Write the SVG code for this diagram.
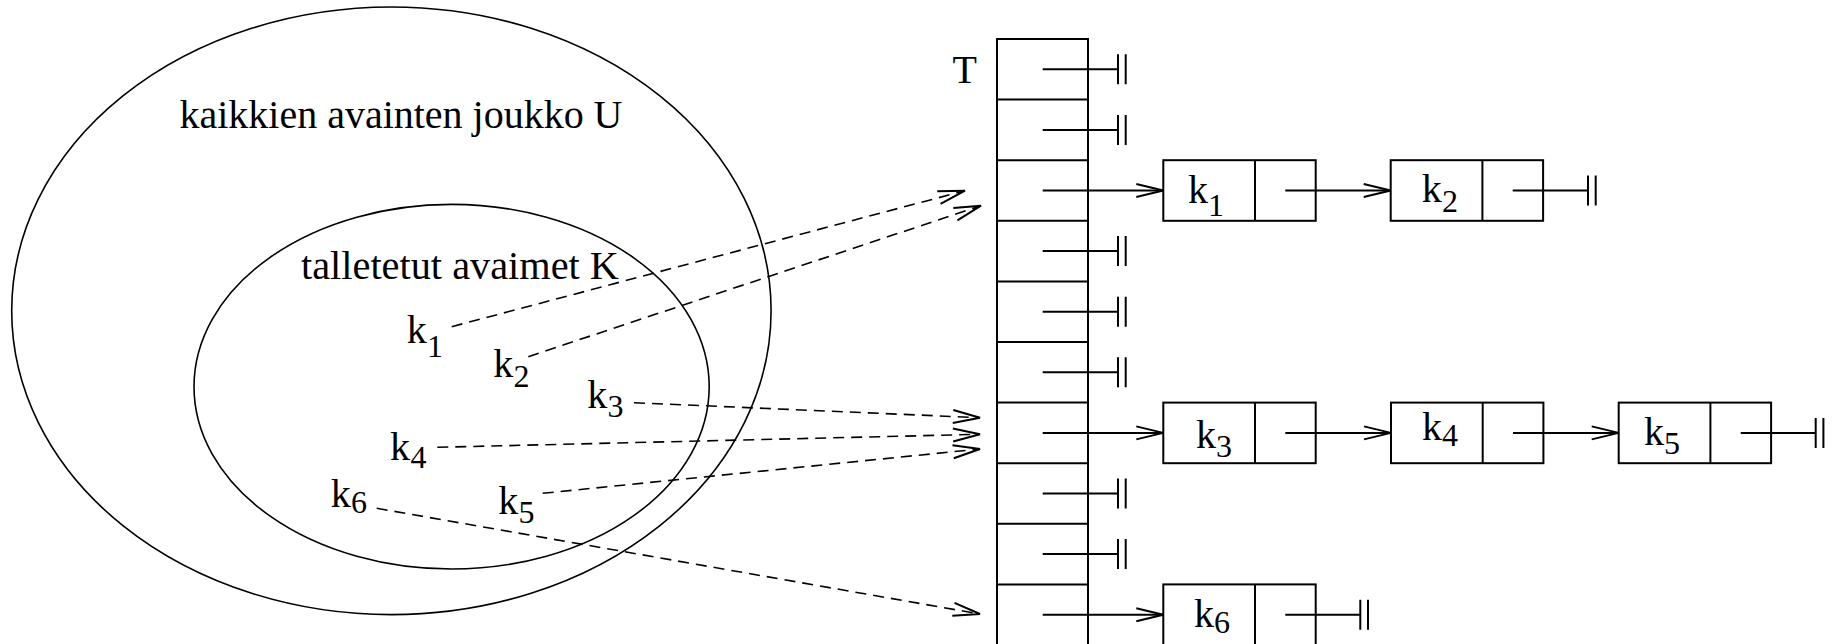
<svg xmlns="http://www.w3.org/2000/svg" width="1832" height="644" viewBox="0 0 1832 644">
<style>
text{font-family:"Liberation Serif","Times New Roman",serif;fill:#000}
.big{font-size:40px}
.sub{font-size:32px}
.sh{fill:none;stroke:#000;stroke-width:1.6}
.box{fill:#fff;stroke:#000;stroke-width:2}
.ln{fill:none;stroke:#000;stroke-width:2}
.dash{fill:none;stroke:#000;stroke-width:1.6;stroke-dasharray:11 7}
</style>
<defs>
<marker id="arr" markerUnits="userSpaceOnUse" markerWidth="30" markerHeight="16" viewBox="-27 -8 30 16" refX="0" refY="0" orient="auto" overflow="visible">
<path d="M-27,-6.5 L0,0 L-27,6.5" fill="none" stroke="#000" stroke-width="2" stroke-dasharray="none"/>
</marker>
<g id="gnd"><path d="M0,-15 V15 M7.7,-15 V15" fill="none" stroke="#000" stroke-width="2"/></g>
</defs>
<rect width="1832" height="644" fill="#fff"/>

<g id="universe">
<ellipse class="sh" cx="391.4" cy="310.8" rx="379.7" ry="303.8"/>
<text class="big" x="179.5" y="128.3" textLength="443" lengthAdjust="spacingAndGlyphs">kaikkien avainten joukko U</text>
</g>
<g id="keyset">
<ellipse class="sh" cx="451.6" cy="386.7" rx="257.6" ry="182.3"/>
<text class="big" x="301" y="279.3" textLength="318" lengthAdjust="spacingAndGlyphs">talletetut avaimet K</text>
</g>

<g id="key-k1"><text class="big" x="406.7" y="343.3">k</text><text class="sub" x="427" y="356.7">1</text></g>
<g id="key-k2"><text class="big" x="493.3" y="376.7">k</text><text class="sub" x="513.5" y="386.7">2</text></g>
<g id="key-k3"><text class="big" x="587.3" y="408.3">k</text><text class="sub" x="607.5" y="416.7">3</text></g>
<g id="key-k4"><text class="big" x="390" y="460">k</text><text class="sub" x="410.5" y="468">4</text></g>
<g id="key-k5"><text class="big" x="498.3" y="514">k</text><text class="sub" x="518.5" y="523.3">5</text></g>
<g id="key-k6"><text class="big" x="330.7" y="506.7">k</text><text class="sub" x="351" y="512.7">6</text></g>

<g id="table-T">
<text class="big" x="977" y="83" text-anchor="end">T</text>
<rect class="box" x="997" y="39" width="91" height="610"/>
<path class="ln" d="M997,99.6 H1088 M997,160.2 H1088 M997,220.8 H1088 M997,281.4 H1088 M997,342 H1088 M997,402.6 H1088 M997,463.2 H1088 M997,523.8 H1088 M997,584.4 H1088"/>
</g>

<g id="node-k1">
<rect class="box" x="1163.3" y="160.2" width="152.4" height="60.6"/>
<path class="ln" d="M1255,160.2 V220.8"/>
<text class="big" x="1188" y="203.3">k</text><text class="sub" x="1208" y="215.7">1</text>
</g>
<g id="node-k2">
<rect class="box" x="1390.7" y="160.2" width="152.4" height="60.6"/>
<path class="ln" d="M1482.4,160.2 V220.8"/>
<text class="big" x="1421.7" y="201.7">k</text><text class="sub" x="1442" y="211.7">2</text>
</g>
<g id="node-k3">
<rect class="box" x="1163.3" y="402.6" width="152.4" height="60.6"/>
<path class="ln" d="M1255,402.6 V463.2"/>
<text class="big" x="1196" y="448.3">k</text><text class="sub" x="1216" y="456.7">3</text>
</g>
<g id="node-k4">
<rect class="box" x="1391" y="402.6" width="152.4" height="60.6"/>
<path class="ln" d="M1482.7,402.6 V463.2"/>
<text class="big" x="1422" y="440">k</text><text class="sub" x="1442" y="446">4</text>
</g>
<g id="node-k5">
<rect class="box" x="1618.7" y="402.6" width="152.4" height="60.6"/>
<path class="ln" d="M1710.4,402.6 V463.2"/>
<text class="big" x="1644" y="445">k</text><text class="sub" x="1664" y="454.3">5</text>
</g>
<g id="node-k6">
<rect class="box" x="1163.3" y="584.4" width="152.4" height="60.6"/>
<path class="ln" d="M1255,584.4 V645"/>
<text class="big" x="1194" y="627">k</text><text class="sub" x="1214" y="633">6</text>
</g>

<g id="connectors">
<path class="dash" d="M451.7,326.7 L965,190.7" marker-end="url(#arr)"/>
<path class="dash" d="M528.3,356.7 L981,205.7" marker-end="url(#arr)"/>
<path class="dash" d="M634,402.7 L980,417.7" marker-end="url(#arr)"/>
<path class="dash" d="M437.3,447.3 L980,434.3" marker-end="url(#arr)"/>
<path class="dash" d="M542.7,493.3 L980,449" marker-end="url(#arr)"/>
<path class="dash" d="M376.7,508.3 L980,614" marker-end="url(#arr)"/>
<path class="ln" d="M1042.7,69.3 H1118"/><use href="#gnd" x="1118" y="69.3"/>
<path class="ln" d="M1042.7,129.9 H1118"/><use href="#gnd" x="1118" y="129.9"/>
<path class="ln" d="M1042.7,251.1 H1118"/><use href="#gnd" x="1118" y="251.1"/>
<path class="ln" d="M1042.7,311.7 H1118"/><use href="#gnd" x="1118" y="311.7"/>
<path class="ln" d="M1042.7,372.3 H1118"/><use href="#gnd" x="1118" y="372.3"/>
<path class="ln" d="M1042.7,493.5 H1118"/><use href="#gnd" x="1118" y="493.5"/>
<path class="ln" d="M1042.7,554.1 H1118"/><use href="#gnd" x="1118" y="554.1"/>
<path class="ln" d="M1042.7,190.5 H1163.3" marker-end="url(#arr)"/>
<path class="ln" d="M1042.7,432.9 H1163.3" marker-end="url(#arr)"/>
<path class="ln" d="M1042.7,614.7 H1163.3" marker-end="url(#arr)"/>
<path class="ln" d="M1285.3,190.5 H1390.7" marker-end="url(#arr)"/>
<path class="ln" d="M1512.7,190.5 H1588"/><use href="#gnd" x="1588" y="190.5"/>
<path class="ln" d="M1285.3,432.9 H1391" marker-end="url(#arr)"/>
<path class="ln" d="M1513,432.9 H1618.7" marker-end="url(#arr)"/>
<path class="ln" d="M1740.7,432.9 H1815.7"/><use href="#gnd" x="1815.7" y="432.9"/>
<path class="ln" d="M1285.3,614.7 H1360.3"/><use href="#gnd" x="1360.3" y="614.7"/>
</g>
</svg>
